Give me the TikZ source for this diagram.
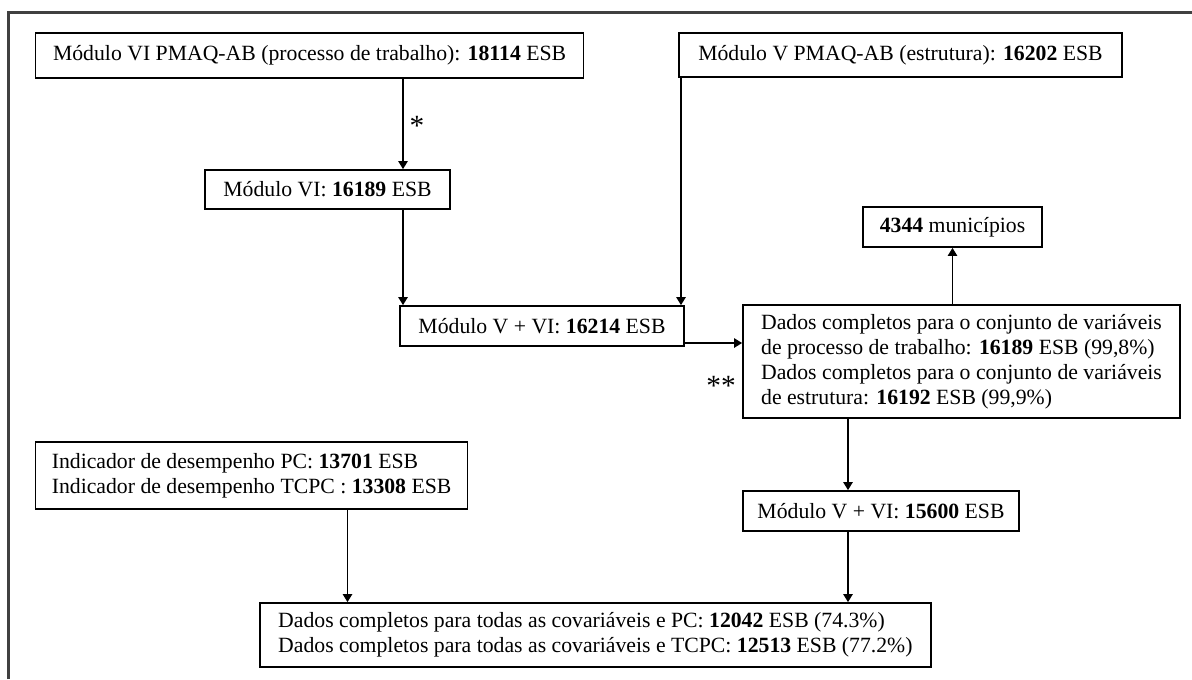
\documentclass[tikz,border=0pt]{standalone}
\usepackage{fontspec}
\setmainfont{Liberation Serif}
\usepackage{tikz}
\usetikzlibrary{arrows.meta,positioning}

\begin{document}
\begin{tikzpicture}[x=0.75pt,y=0.75pt,yscale=-1,xscale=1,
  box/.style={draw, line width=1.3pt, inner sep=0pt, align=left,
    font=\fontsize{16.3pt}{18.8pt}\selectfont},
  arr/.style={line width=1.1pt, -{Triangle[length=6pt,width=7pt]}},
  mark label/.style={font=\fontsize{22pt}{24pt}\selectfont, inner sep=0pt}]
\useasboundingbox (0,0) rectangle (1192,679);

% outer frame
\draw [line width=1.6pt, black!75] (8.5,679) -- (8.5,12.5) -- (1192,12.5);

% Text Node
\node [box, minimum width=411pt, minimum height=33.75pt] (modVI) at (309.6,55.5) {M\'odulo VI PMAQ-AB (processo de trabalho): \textbf{18114} ESB};
% Text Node
\node [box, minimum width=332.25pt, minimum height=33pt] (modV) at (900.5,55) {M\'odulo V PMAQ-AB (estrutura): \textbf{16202} ESB};
% Text Node
\node [box, minimum width=183.75pt, minimum height=29.25pt] (modVIb) at (327.5,189.5) {M\'odulo VI: \textbf{16189} ESB};
% Text Node
\node [box, minimum width=213pt, minimum height=30pt] (juncao) at (542,326) {M\'odulo V + VI: \textbf{16214} ESB};
% Text Node
\node [box, minimum width=134.25pt, minimum height=30pt] (munic) at (952.5,227) {\textbf{4344} munic\'ipios};
% Text Node
\node [box, minimum width=327.75pt, minimum height=84.75pt] (completos) at (961.5,361.5) {Dados completos para o conjunto de vari\'aveis\\
de processo de trabalho: \textbf{16189} ESB (99,8\%)\\
Dados completos para o conjunto de vari\'aveis\\
de estrutura: \textbf{16192} ESB (99,9\%)};
% Text Node
\node [box, minimum width=207pt, minimum height=30pt] (juncaoB) at (881,511) {M\'odulo V + VI: \textbf{15600} ESB};
% Text Node
\node [box, minimum width=324pt, minimum height=50.25pt] (indicador) at (251.6,475.5) {Indicador de desempenho PC: \textbf{13701} ESB\\
Indicador de desempenho TCPC : \textbf{13308} ESB};
% Text Node
\node [box, minimum width=503.25pt, minimum height=48pt] (final) at (595.4,635) {Dados completos para todas as covari\'aveis e PC: \textbf{12042} ESB (74.3\%)\\
Dados completos para todas as covari\'aveis e TCPC: \textbf{12513} ESB (77.2\%)};

% marks
\node [mark label] (umaest) at (417,126) {*};
\node [mark label] (duasest) at (721,386) {**};

% connector positions
\coordinate (xVI) at (403,0);
\coordinate (xV) at (681,0);
\coordinate (xB) at (848,0);
\coordinate (xInd) at (347.5,0);
\coordinate (yJ) at (0,343);

% connectors
\draw [arr] (modVI.south -| xVI) -- (modVIb.north -| xVI);
\draw [arr] (modVIb.south -| xVI) -- (juncao.north -| xVI);
\draw [arr] (modV.south -| xV) -- (juncao.north -| xV);
\draw [arr] (juncao.east |- yJ) -- (completos.west |- yJ);
\draw [arr] (completos.north -| munic.south) -- (munic.south);
\draw [arr] (completos.south -| xB) -- (juncaoB.north -| xB);
\draw [arr] (juncaoB.south -| xB) -- (final.north -| xB);
\draw [arr] (indicador.south -| xInd) -- (final.north -| xInd);

\end{tikzpicture}
\end{document}
